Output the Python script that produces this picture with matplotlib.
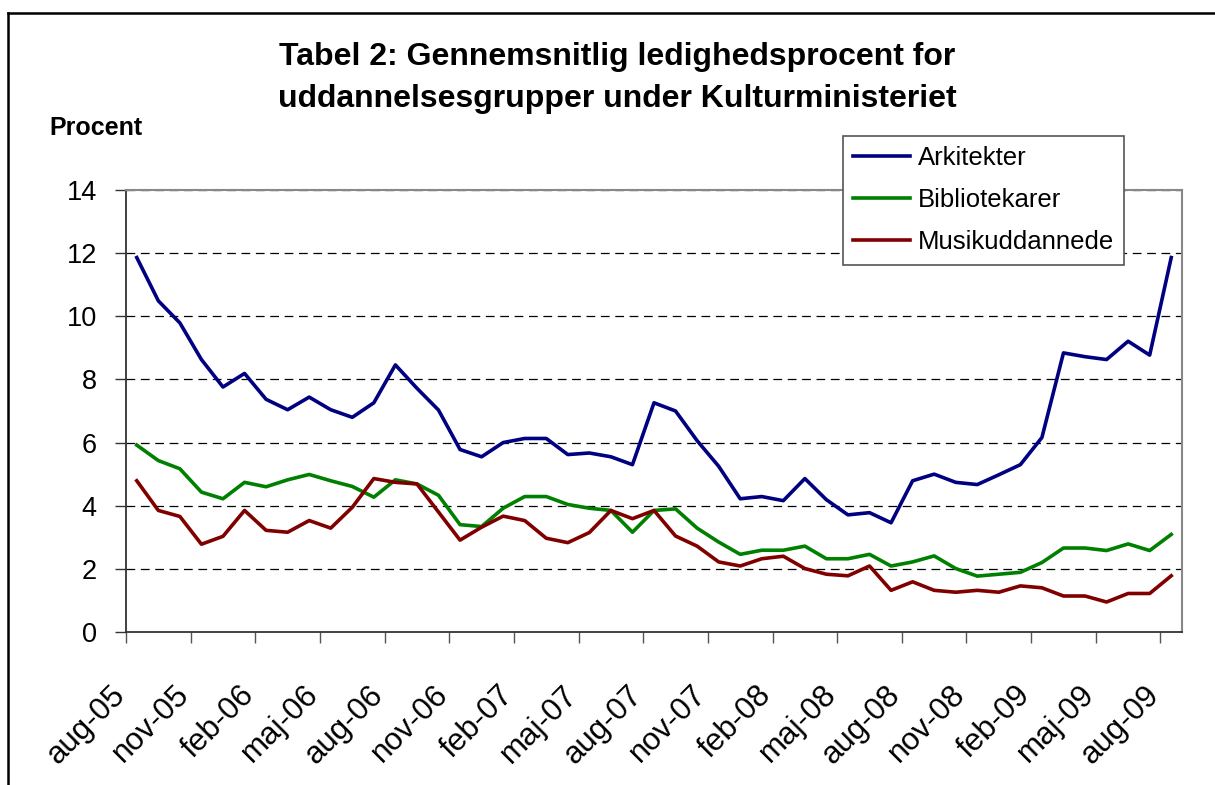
import numpy as np
import matplotlib.pyplot as plt
from matplotlib.lines import Line2D

plt.rcParams['font.family'] = ['Liberation Sans', 'DejaVu Sans']

# x-akse: en etiket hver tredje maaned, aug-05 .. aug-09
tick_labels = ['aug-05', 'nov-05', 'feb-06', 'maj-06', 'aug-06', 'nov-06',
               'feb-07', 'maj-07', 'aug-07', 'nov-07', 'feb-08', 'maj-08',
               'aug-08', 'nov-08', 'feb-09', 'maj-09', 'aug-09']

# maanedlige ledighedsprocenter (49 maaneder)
arkitekter = [11.86, 10.49, 9.79, 8.63, 7.76, 8.19, 7.37, 7.04, 7.44, 7.04,
              6.80, 7.26, 8.46, 7.72, 7.03, 5.78, 5.55, 6.00, 6.13, 6.13,
              5.62, 5.67, 5.55, 5.30, 7.26, 7.00, 6.06, 5.25, 4.22, 4.29,
              4.16, 4.86, 4.19, 3.71, 3.78, 3.46, 4.79, 5.00, 4.74, 4.67,
              4.98, 5.30, 6.16, 8.84, 8.72, 8.63, 9.21, 8.77, 11.86]
bibliotekarer = [5.92, 5.43, 5.17, 4.43, 4.22, 4.74, 4.60, 4.82, 4.99, 4.79,
                 4.61, 4.27, 4.82, 4.69, 4.33, 3.40, 3.34, 3.92, 4.29, 4.29,
                 4.04, 3.92, 3.85, 3.16, 3.85, 3.90, 3.29, 2.85, 2.46, 2.59,
                 2.59, 2.72, 2.32, 2.32, 2.46, 2.09, 2.22, 2.41, 2.01, 1.77,
                 1.83, 1.89, 2.20, 2.66, 2.66, 2.58, 2.79, 2.58, 3.09]
musikuddannede = [4.79, 3.85, 3.66, 2.78, 3.03, 3.85, 3.22, 3.16, 3.53, 3.29,
                  3.95, 4.86, 4.74, 4.69, 3.80, 2.91, 3.32, 3.67, 3.53, 2.97,
                  2.83, 3.15, 3.85, 3.59, 3.85, 3.04, 2.72, 2.22, 2.09, 2.32,
                  2.40, 2.01, 1.83, 1.78, 2.09, 1.32, 1.59, 1.32, 1.26, 1.32,
                  1.26, 1.46, 1.40, 1.14, 1.14, 0.95, 1.22, 1.22, 1.78]

n = len(arkitekter)
x = np.arange(n) + 0.5   # punkter midt i hver maaned

fig = plt.figure(figsize=(12.15, 7.85), dpi=100)
ax = fig.add_axes([126/1215, 1 - 632/785, (1182-126)/1215, (632-190)/785])

ax.plot(x, arkitekter, color='#000080', lw=2.6, label='Arkitekter', zorder=3)
ax.plot(x, bibliotekarer, color='#008000', lw=2.6, label='Bibliotekarer', zorder=3)
ax.plot(x, musikuddannede, color='#800000', lw=2.6, label='Musikuddannede', zorder=3)

ax.set_xlim(0, n)
ax.set_ylim(0, 14)
ax.set_yticks(range(0, 15, 2))
ax.set_xticks(range(0, n, 3))
ax.set_xticklabels(tick_labels, rotation=45, ha='right', va='baseline',
                   rotation_mode='anchor', fontsize=22.5)
ax.tick_params(axis='y', labelsize=19.5, length=8, width=1, pad=13, color='#333333')
ax.tick_params(axis='x', length=8, width=1, pad=38, color='#555555')

for y in range(2, 15, 2):
    ax.axhline(y, color='black', lw=0.9, ls=(0, (7, 4.5)), zorder=1)

for s in ['left', 'bottom']:
    ax.spines[s].set_color('#333333')
    ax.spines[s].set_linewidth(1.3)
for s in ['top', 'right']:
    ax.spines[s].set_color('#888888')
    ax.spines[s].set_linewidth(1.5)

leg = ax.legend(loc='upper right', bbox_to_anchor=(1124/1215, 1 - 136/785),
                bbox_transform=fig.transFigure, fontsize=18.5, frameon=True,
                fancybox=False, edgecolor='#555555', framealpha=1,
                handlelength=2.2, handletextpad=0.3, labelspacing=0.7,
                borderpad=0.4, borderaxespad=0)
leg.get_frame().set_linewidth(1.2)
leg.set_zorder(5)

fig.text(617/1215, 1 - 57/785, 'Tabel 2: Gennemsnitlig ledighedsprocent for',
         ha='center', va='center', fontsize=23, fontweight='bold')
fig.text(617/1215, 1 - 99/785, 'uddannelsesgrupper under Kulturministeriet',
         ha='center', va='center', fontsize=23, fontweight='bold')
fig.text(49/1215, 1 - 128/785, 'Procent', ha='left', va='center',
         fontsize=18, fontweight='bold')

# ramme om diagrammet (kun venstre og top er synlige)
fig.add_artist(Line2D([7.5/1215, 7.5/1215], [0, 1 - 12.5/785], color='black', lw=1.8))
fig.add_artist(Line2D([7.5/1215, 1], [1 - 12.5/785, 1 - 12.5/785], color='black', lw=1.8))

fig.savefig('out.png', dpi=100)
